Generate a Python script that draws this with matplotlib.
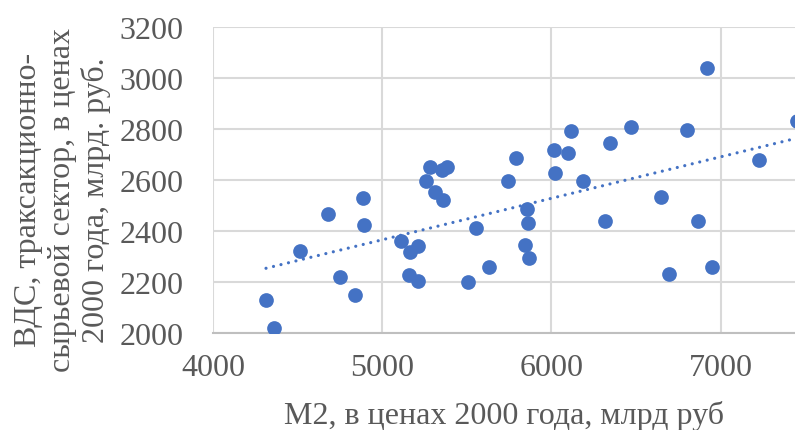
import numpy as np
import matplotlib
matplotlib.use("Agg")
import matplotlib.pyplot as plt

# M2 money supply (2000 prices, bn rub) vs GVA of the transaction/resource sector
m2 = [4313, 4360, 4513, 4681, 4752, 4842, 4885, 4891, 5110, 5163,
      5214, 5159, 5209, 5261, 5281, 5354, 5383, 5311, 5358, 5505,
      5556, 5633, 5743, 5793, 5858, 5862, 5842, 5867, 6015, 6023,
      6098, 6117, 6184, 6316, 6348, 6471, 6648, 6694, 6800, 6865,
      6918, 6952, 7229, 7450]
gva = [2131, 2020, 2322, 2468, 2222, 2151, 2529, 2425, 2362, 2320,
       2342, 2229, 2206, 2598, 2653, 2642, 2651, 2553, 2523, 2201,
       2412, 2259, 2598, 2689, 2487, 2433, 2346, 2294, 2719, 2629,
       2706, 2793, 2596, 2439, 2746, 2808, 2535, 2234, 2796, 2439,
       3039, 2259, 2681, 2834]

x_ticks = [4000, 5000, 6000, 7000]
y_ticks = [2000, 2200, 2400, 2600, 2800, 3000, 3200]

x_label = "М2, в ценах 2000 года, млрд руб"
y_label = "ВДС, траксакционно-\nсырьевой сектор, в ценах\n2000 года, млрд. руб."

blue = "#4472C4"
grid_c = "#d9d9d9"
text_c = "#595959"

plt.rcParams["font.family"] = ["Liberation Serif", "DejaVu Serif"]

fig = plt.figure(figsize=(7.95, 4.31), dpi=100)
ax = fig.add_axes([0.268, 0.2244, 0.732, 0.7096])

x = np.array(m2, dtype=float)
y = np.array(gva, dtype=float)

ax.scatter(x, y, s=112, color=blue, zorder=3, linewidths=0)

# linear trend
k, b = np.polyfit(x, y, 1)
xt = np.array([x.min(), x.max()])
ax.plot(xt, k * xt + b, color=blue, lw=2.3, linestyle=(0, (0.01, 2.4)),
        dash_capstyle="round", zorder=2)

ax.set_xlim(4000, 7440)
ax.set_ylim(2000, 3200)
ax.set_xticks(x_ticks)
ax.set_yticks(y_ticks)
ax.grid(True, color=grid_c, lw=1.5, zorder=0)
ax.set_axisbelow(True)
for side in ["top", "right", "left"]:
    ax.spines[side].set_visible(False)
ax.spines["bottom"].set_color("#bfbfbf")
ax.spines["bottom"].set_linewidth(1.5)
ax.tick_params(length=0, labelsize=23, colors=text_c)
ax.tick_params(axis="x", pad=14)
ax.tick_params(axis="y", pad=21)

fig.text(0.634, 0.035, x_label, ha="center", va="center", fontsize=23,
         color=text_c)
fig.text(0.079, 0.536, y_label, ha="center", va="center", fontsize=23,
         color=text_c, rotation=90, linespacing=1.2, multialignment="center")

fig.savefig("out.png", dpi=100)
